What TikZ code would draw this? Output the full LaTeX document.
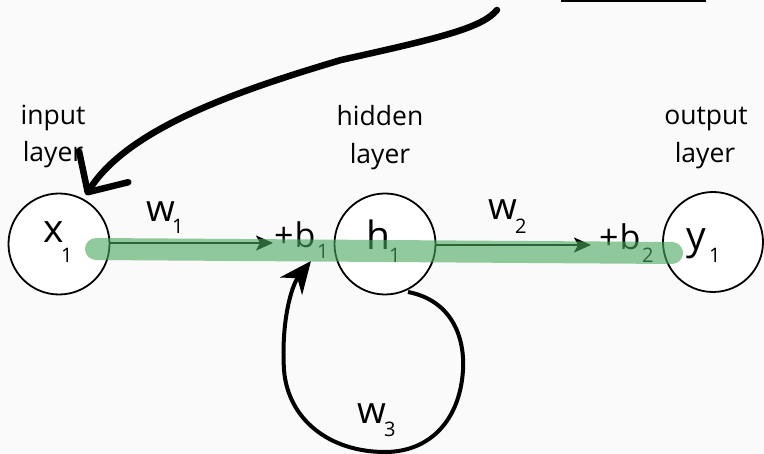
\documentclass[tikz,border=0pt]{standalone}
\usepackage{fontspec}
\setmainfont{Open Sans}
\usetikzlibrary{arrows.meta}
\definecolor{bg}{HTML}{FAFAFA}
\definecolor{band}{RGB}{72,167,92}
\begin{document}
\begin{tikzpicture}[x=1bp,y=-1bp,
  neuron/.style={circle,draw=black,line width=1.8bp,fill=white,minimum size=101bp,inner sep=0},
  lay/.style={anchor=base,inner sep=0,font=\fontsize{26.5bp}{30bp}\selectfont},
  big/.style={anchor=base west,inner sep=0,font=\fontsize{39bp}{42bp}\selectfont},
  wgt/.style={anchor=base west,inner sep=0,font=\fontsize{37bp}{40bp}\selectfont},
  mid/.style={anchor=base west,inner sep=0,font=\fontsize{34bp}{38bp}\selectfont},
  sub/.style={anchor=base west,inner sep=0,font=\fontsize{20bp}{22bp}\selectfont},
  flow/.style={line width=2bp,-{Stealth[length=17bp,width=15bp,inset=4bp]}},
  bigarrow/.style={line width=6.5bp,line cap=round,-{Straight Barb[length=30bp,width=58bp,round]}},
  loop/.style={line width=4bp,-{Stealth[length=32bp,width=28bp,inset=10bp]}},
  highlight/.style={line width=22bp,line cap=round,draw=band,draw opacity=0.6},
]
\fill[bg] (0,0) rectangle (764,454);
\useasboundingbox (0,0) rectangle (764,454);

% clipped title underline at the very top
\coordinate (ulA) at (561,1.5);
\coordinate (ulB) at (706,1.5);
\draw[line width=2bp] (ulA) -- (ulB);

% neurons
\node[neuron] (x1) at (59,244) {};
\node[neuron] (h1) at (385,244) {};
\node[neuron,minimum size=100bp] (y1) at (713,242) {};

% layer captions
\node[lay] (inp) at (53,125) {input};
\node[lay] (inl) at (53,162) {layer};
\node[lay] (hid) at (380,126) {hidden};
\node[lay] (hil) at (380,164) {layer};
\node[lay] (out) at (706,125) {output};
\node[lay] (oul) at (705,163) {layer};

% node labels
\node[big] (x1t) at (43,243) {x};
\node[sub] (x1s) at (61,263) {1};
\node[big] (h1t) at (366,250) {h};
\node[sub] (h1s) at (389,263) {1};
\node[big] (y1t) at (686,250) {y};
\node[sub] (y1s) at (709,263) {1};

% weights and biases
\node[wgt] (w1t) at (146,222) {w};
\node[sub] (w1s) at (172,234) {1};
\node[wgt] (w2t) at (488,220) {w};
\node[sub] (w2s) at (515,234) {2};
\node[wgt] (w3t) at (357,423) {w};
\node[sub] (w3s) at (384,436) {3};
\node[mid] (b1t) at (274,248) {+\kern1bp b};
\node[sub] (b1s) at (317,259) {1};
\node[mid] (b2t) at (599,250) {+\kern1bp b};
\node[sub] (b2s) at (642,263) {2};

% forward connections
\coordinate (b1tip) at (273,243);
\coordinate (b2tip) at (591,245);
\draw[flow] (x1.east |- b1tip) -- (b1tip);
\draw[flow] (h1.east |- b2tip) -- (b2tip);

% recurrent loop
\coordinate (loopS) at (408,292);
\coordinate (loopE) at (311,261);
\draw[loop] (loopS) .. controls (450,300) and (465,335) .. (463,370)
  .. controls (460,420) and (430,452) .. (385,452)
  .. controls (330,452) and (288,420) .. (284,370)
  .. controls (281,320) and (292,285) .. (loopE);

% big pointer arrow
\coordinate (ptrS) at (497,10);
\coordinate (ptrE) at (86,195);
\draw[bigarrow] (ptrS) .. controls (482,28) and (440,38) .. (341,60)
  .. controls (240,90) and (128,128) .. (ptrE);

% highlighted path
\coordinate (bandL) at (96,249);
\coordinate (bandR) at (672,253);
\draw[highlight] (bandL) -- (bandR);
\end{tikzpicture}
\end{document}
